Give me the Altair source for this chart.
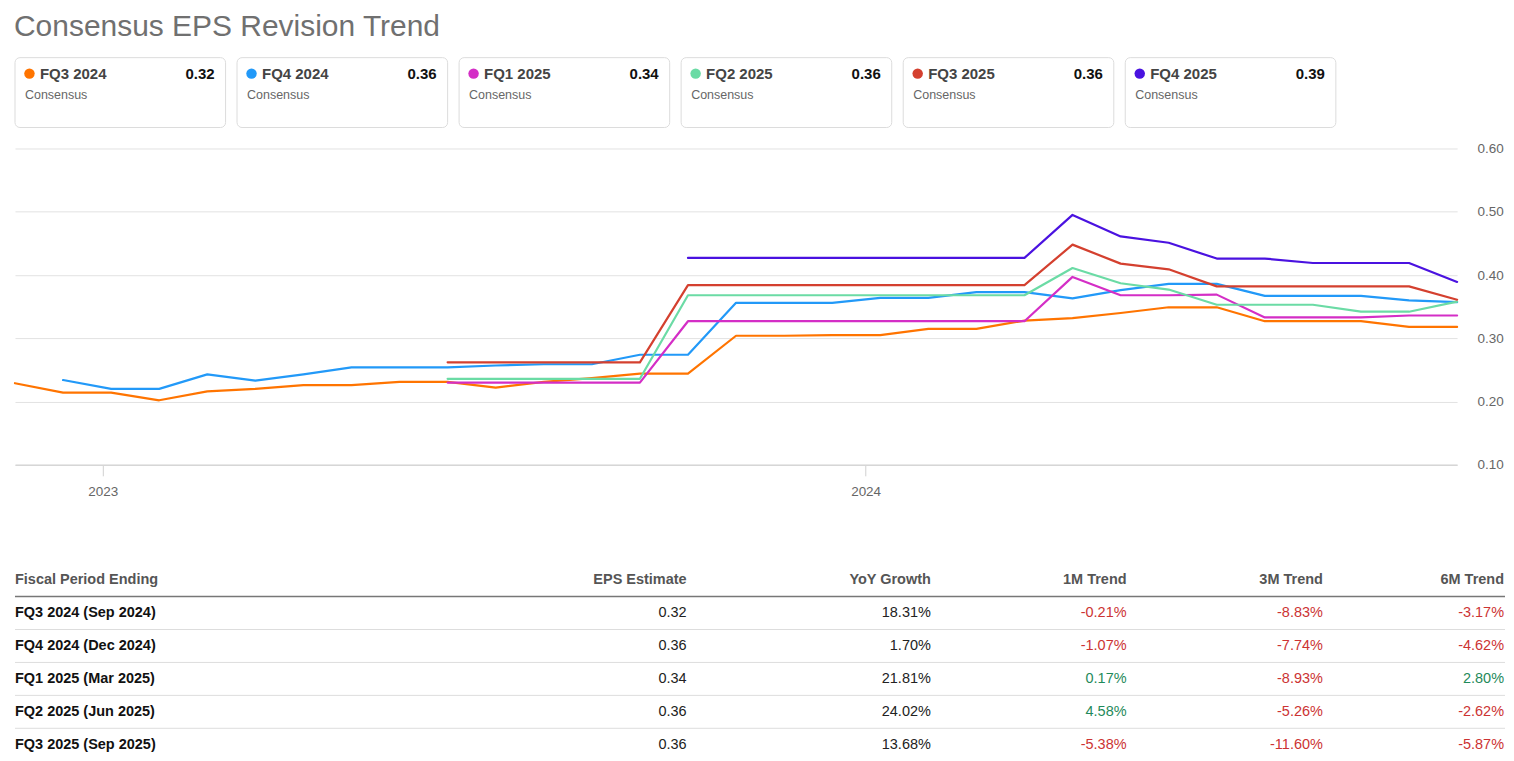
import altair as alt
import pandas as pd

FONT = "Liberation Sans"
TITLE = "Consensus EPS Revision Trend"

SERIES = ["FQ3 2024", "FQ4 2024", "FQ1 2025", "FQ2 2025", "FQ3 2025", "FQ4 2025"]
COLORS = ["#ff7400", "#2299f8", "#d42ec6", "#6bdba5", "#d4402f", "#4a12e0"]
CONSENSUS = ["0.32", "0.36", "0.34", "0.36", "0.36", "0.39"]

DATES = [
    "2022-11-20", "2022-12-13", "2023-01-05", "2023-01-28", "2023-02-20",
    "2023-03-15", "2023-04-07", "2023-04-30", "2023-05-23", "2023-06-15",
    "2023-07-08", "2023-07-31", "2023-08-23", "2023-09-15", "2023-10-08",
    "2023-10-31", "2023-11-23", "2023-12-16", "2024-01-08", "2024-01-31",
    "2024-02-23", "2024-03-17", "2024-04-09", "2024-05-02", "2024-05-25",
    "2024-06-17", "2024-07-10", "2024-08-02", "2024-08-25", "2024-09-17",
    "2024-10-10",
]

N = None
FQ3_2024 = [0.229, 0.214, 0.214, 0.202, 0.216, 0.220, 0.226, 0.226, 0.231, 0.231,
            0.222, 0.231, 0.237, 0.244, 0.244, 0.304, 0.304, 0.305, 0.305, 0.315,
            0.315, 0.328, 0.332, 0.340, 0.349, 0.349, 0.327, 0.327, 0.327, 0.318,
            0.318]
FQ4_2024 = [N, 0.234, 0.220, 0.220, 0.243, 0.233, 0.243, 0.254, 0.254, 0.254,
            0.257, 0.259, 0.259, 0.274, 0.274, 0.356, 0.356, 0.356, 0.364, 0.364,
            0.373, 0.373, 0.363, 0.376, 0.386, 0.386, 0.367, 0.367, 0.367, 0.360,
            0.357]
FQ1_2025 = [N, N, N, N, N, N, N, N, N, 0.230,
            0.230, 0.230, 0.230, 0.230, 0.327, 0.327, 0.327, 0.327, 0.327, 0.327,
            0.327, 0.327, 0.397, 0.368, 0.368, 0.369, 0.333, 0.333, 0.333, 0.336,
            0.336]
FQ2_2025 = [N, N, N, N, N, N, N, N, N, 0.236,
            0.236, 0.236, 0.236, 0.236, 0.368, 0.368, 0.368, 0.368, 0.368, 0.368,
            0.368, 0.368, 0.411, 0.387, 0.377, 0.353, 0.353, 0.353, 0.342, 0.342,
            0.358]
FQ3_2025 = [N, N, N, N, N, N, N, N, N, 0.262,
            0.262, 0.262, 0.262, 0.262, 0.384, 0.384, 0.384, 0.384, 0.384, 0.384,
            0.384, 0.384, 0.448, 0.418, 0.409, 0.382, 0.382, 0.382, 0.382, 0.382,
            0.361]
FQ4_2025 = [N, N, N, N, N, N, N, N, N, N,
            N, N, N, N, 0.427, 0.427, 0.427, 0.427, 0.427, 0.427,
            0.427, 0.427, 0.495, 0.461, 0.451, 0.426, 0.426, 0.419, 0.419, 0.419,
            0.389]

HEADERS = ["Fiscal Period Ending", "EPS Estimate", "YoY Growth", "1M Trend", "3M Trend", "6M Trend"]
PERIODS = ["FQ3 2024 (Sep 2024)", "FQ4 2024 (Dec 2024)", "FQ1 2025 (Mar 2025)",
           "FQ2 2025 (Jun 2025)", "FQ3 2025 (Sep 2025)"]
EPS = [0.32, 0.36, 0.34, 0.36, 0.36]
YOY = [18.31, 1.70, 21.81, 24.02, 13.68]
M1 = [-0.21, -1.07, 0.17, 4.58, -5.38]
M3 = [-8.83, -7.74, -8.93, -5.26, -11.60]
M6 = [-3.17, -4.62, 2.80, -2.62, -5.87]

RED = "#cc3333"
GREEN = "#1f8a5b"
W = 1493

color_scale = alt.Scale(domain=SERIES, range=COLORS)

# ---------------- header: title + cards ----------------
cards_df = pd.DataFrame({"idx": list(range(len(SERIES))), "series": SERIES,
                         "value": CONSENSUS, "sub": ["Consensus"] * len(SERIES)})
xcard = alt.X("idx:Q", scale=alt.Scale(domain=[0, W / 222.5], nice=False, zero=False), axis=None)
cbase = alt.Chart(cards_df)
rects = cbase.mark_rect(fill="white", stroke="#dcdcdc", strokeWidth=1, cornerRadius=5,
                        x2Offset=211).encode(x=xcard, x2="idx:Q", y=alt.value(49), y2=alt.value(119))
dots = cbase.mark_circle(size=110, opacity=1, xOffset=14.5).encode(
    x=xcard, y=alt.value(65), color=alt.Color("series:N", scale=color_scale, legend=None))
clabels = cbase.mark_text(align="left", baseline="middle", dx=25, fontSize=15, fontWeight="bold",
                          color="#444444", font=FONT).encode(x=xcard, y=alt.value(65), text="series:N")
cvals = cbase.mark_text(align="right", baseline="middle", dx=200, fontSize=15, fontWeight="bold",
                        color="#111111", font=FONT).encode(x=xcard, y=alt.value(65), text="value:N")
csubs = cbase.mark_text(align="left", baseline="middle", dx=10, fontSize=12.5,
                        color="#666666", font=FONT).encode(x=xcard, y=alt.value(86), text="sub:N")
title = alt.Chart(pd.DataFrame({"t": [TITLE]})).mark_text(
    align="left", baseline="top", fontSize=30, color="#707070", font=FONT
).encode(x=alt.value(-1), y=alt.value(3.5), text="t:N")
header = alt.layer(rects, dots, clabels, cvals, csubs, title).properties(width=W, height=140)

# ---------------- line chart ----------------
rows = []
for name, vals in zip(SERIES, [FQ3_2024, FQ4_2024, FQ1_2025, FQ2_2025, FQ3_2025, FQ4_2025]):
    for d, v in zip(DATES, vals):
        if v is not None:
            rows.append({"date": d, "series": name, "eps": v})
ldf = pd.DataFrame(rows)

lines = alt.Chart(ldf).mark_line(strokeWidth=2.2, strokeJoin="round", strokeCap="round").encode(
    x=alt.X("date:T", scale=alt.Scale(nice=False),
            axis=alt.Axis(values=[alt.DateTime(year=2023, month=1, date=1),
                                  alt.DateTime(year=2024, month=1, date=1)],
                          format="%Y", grid=False, title=None,
                          domainColor="#d6d6d6", domainWidth=1.5,
                          tickColor="#d0d0d0", tickSize=11, tickWidth=1,
                          labelColor="#666666", labelFontSize=13.5, labelFont=FONT,
                          labelPadding=9)),
    y=alt.Y("eps:Q", scale=alt.Scale(domain=[0.1, 0.6], nice=False, zero=False),
            axis=alt.Axis(orient="right", values=[0.1, 0.2, 0.3, 0.4, 0.5, 0.6], format=".2f",
                          grid=True, gridColor="#e2e2e2", gridWidth=1, domain=False, ticks=False,
                          labelPadding=20, labelColor="#666666", labelFontSize=13.5,
                          labelFont=FONT, labelAlign="left", title=None)),
    color=alt.Color("series:N", scale=color_scale, legend=None),
).properties(width=1445, height=317)

# ---------------- table ----------------
xcol = alt.X("col:Q", scale=alt.Scale(domain=[0, 1, 2, 3, 4, 5],
                                      range=[0, 673, 917.7, 1113.8, 1310.5, 1492]), axis=None)
yrow = alt.Y("row:Q", scale=alt.Scale(domain=[-4.5, 4.227], reverse=True, nice=False, zero=False),
             axis=None)

hdr_df = pd.DataFrame({"col": list(range(len(HEADERS))), "row": [-1] * len(HEADERS), "text": HEADERS})
lbl_df = pd.DataFrame({"col": [0] * len(PERIODS), "row": list(range(len(PERIODS))), "text": PERIODS})
cells = []
for r in range(len(PERIODS)):
    cells.append({"col": 1, "row": r, "text": f"{EPS[r]:.2f}", "color": "#222222"})
    cells.append({"col": 2, "row": r, "text": f"{YOY[r]:.2f}%", "color": "#222222"})
    for c, arr in ((3, M1), (4, M3), (5, M6)):
        v = arr[r]
        cells.append({"col": c, "row": r, "text": f"{v:.2f}%", "color": RED if v < 0 else GREEN})
cells_df = pd.DataFrame(cells)

seps = alt.Chart(pd.DataFrame({"row": [r + 0.5 for r in range(len(PERIODS) - 1)]})).mark_rule(
    color="#dddddd", strokeWidth=1).encode(y=yrow, x=alt.value(0), x2=alt.value(W))
underline = alt.Chart(pd.DataFrame({"row": [-0.5]})).mark_rule(
    color="#777777", strokeWidth=1.5).encode(y=yrow, x=alt.value(0), x2=alt.value(W))
hdr_left = alt.Chart(hdr_df[hdr_df.col == 0]).mark_text(
    align="left", baseline="middle", fontSize=14.5, fontWeight="bold", color="#555555", font=FONT
).encode(x=xcol, y=yrow, text="text:N")
hdr_right = alt.Chart(hdr_df[hdr_df.col > 0]).mark_text(
    align="right", baseline="middle", fontSize=14.5, fontWeight="bold", color="#555555", font=FONT
).encode(x=xcol, y=yrow, text="text:N")
lbls = alt.Chart(lbl_df).mark_text(
    align="left", baseline="middle", fontSize=14.5, fontWeight="bold", color="#111111", font=FONT
).encode(x=xcol, y=yrow, text="text:N")
nums = alt.Chart(cells_df).mark_text(
    align="right", baseline="middle", fontSize=14.5, font=FONT
).encode(x=xcol, y=yrow, text="text:N", color=alt.Color("color:N", scale=None))
table = alt.layer(seps, underline, hdr_left, hdr_right, lbls, nums).properties(width=W, height=288)

chart = alt.vconcat(header, lines, table, spacing=0, bounds="flush").properties(
    padding={"left": 5, "right": 0, "top": 0, "bottom": 0}
).configure(font=FONT).configure_view(stroke="transparent", strokeWidth=0)

chart.save("out.html", embed_options={"renderer": "svg", "actions": False})
